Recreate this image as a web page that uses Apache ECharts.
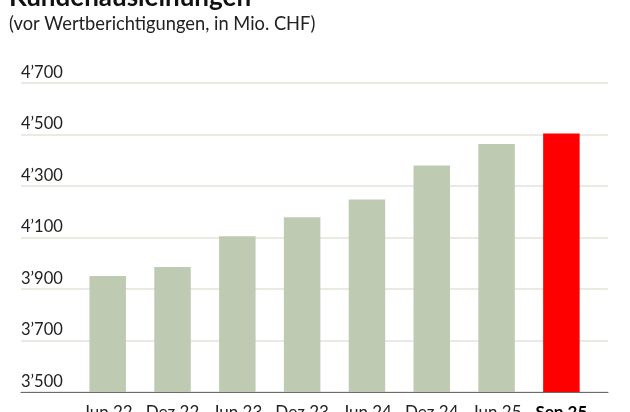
<!DOCTYPE html>
<html>
<head>
<meta charset="utf-8">
<script src="https://cdn.jsdelivr.net/npm/echarts@6/dist/echarts.min.js"></script>
<style>html,body{margin:0;padding:0;background:#fff}#c{width:630px;height:412px}</style>
</head>
<body>
<div id="c"></div>
<script>
const titleText = 'Kundenausleihungen';
const subtitleText = '(vor Wertberichtigungen, in Mio. CHF)';
const categories = ['Jun 22', 'Dez 22', 'Jun 23', 'Dez 23', 'Jun 24', 'Dez 24', 'Jun 25', 'Sep 25'];
const values = [3950, 3985, 4104, 4178, 4247, 4379, 4462, 4503];
const yTicks = [3500, 3700, 3900, 4100, 4300, 4500, 4700];

const FONT = 'Lato';
const fmt = v => {
  const s = String(Math.round(v));
  return s.length > 3 ? s.slice(0, s.length - 3) + '\u2019' + s.slice(-3) : s;
};
const lastIdx = categories.length - 1;
const catData = categories.map((c, i) => i === lastIdx
  ? {value: c, textStyle: {fontWeight: 'bold', color: '#000000'}}
  : {value: c});

const chart = echarts.init(document.getElementById('c'), null, {renderer: 'canvas'});
chart.setOption({
  animation: false,
  backgroundColor: '#fff',
  textStyle: {fontFamily: FONT},
  title: [
    {text: titleText, left: 4, top: -20, textStyle: {fontFamily: FONT, fontWeight: 'bold', fontSize: 26, color: '#111'}},
    {text: subtitleText, left: 4, top: 10, textStyle: {fontFamily: FONT, fontWeight: 'normal', fontSize: 18.3, color: '#222'}}
  ],
  grid: [
    {left: 21, right: 22, top: 82.7, bottom: 20, containLabel: false, outerBoundsMode: 'none'},
    {left: 75.3, right: 36.2, top: 82.7, bottom: 20, containLabel: false, outerBoundsMode: 'none'}
  ],
  xAxis: [
    {type: 'category', gridIndex: 0, data: categories, axisLabel: {show: false}, axisTick: {show: false},
     axisLine: {show: true, lineStyle: {color: '#6b6b6b', width: 1.2}}, splitLine: {show: false}, z: 5},
    {type: 'category', gridIndex: 1, data: catData, axisTick: {show: false}, axisLine: {show: false},
     axisLabel: {interval: 0, hideOverlap: false, margin: 12, fontSize: 17, color: '#222', fontFamily: FONT}}
  ],
  yAxis: [
    {type: 'value', gridIndex: 0, min: yTicks[0], max: yTicks[yTicks.length - 1], interval: 200,
     axisLine: {show: false}, axisTick: {show: false},
     splitLine: {show: true, lineStyle: {color: '#e3e3da', width: 1.5}},
     axisLabel: {inside: true, margin: 0, verticalAlign: 'bottom', padding: [0, 0, 2, 0], fontSize: 16.5, color: '#222', fontFamily: FONT, formatter: fmt}},
    {type: 'value', gridIndex: 1, min: yTicks[0], max: yTicks[yTicks.length - 1], interval: 200, show: false, splitLine: {show: false}}
  ],
  series: [{
    type: 'bar', xAxisIndex: 1, yAxisIndex: 1, barWidth: 36.5,
    data: values.map((v, i) => ({value: v, itemStyle: {color: i === lastIdx ? '#ff0000' : '#bfcab3'}})),
    z: 3
  }]
});
</script>
</body>
</html>
